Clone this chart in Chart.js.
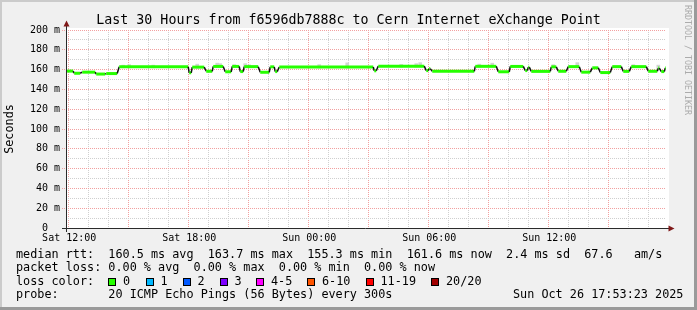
<!DOCTYPE html>
<html>
<head>
<meta charset="utf-8">
<script src="https://cdn.jsdelivr.net/npm/chart.js@4.4.1/dist/chart.umd.min.js"></script>
<style>
  body { margin: 0; background: #fff; }
  #wrap { position: relative; width: 697px; height: 310px; font-family: 'DejaVu Sans Mono', monospace; color: #000; }
  canvas { position: absolute; left: 0; top: 0; }
  .t { position: absolute; white-space: pre; line-height: 1; font-size: 11.8px; }
  .box { position: absolute; width: 6px; height: 6px; border: 1px solid #000; }
</style>
</head>
<body>
<div id="wrap">
  <canvas id="pingCanvas" width="697" height="310"></canvas>
  <div class="t" style="left:0;width:697px;text-align:center;top:12.7px;font-size:13.3px">Last 30 Hours from f6596db7888c to Cern Internet eXchange Point</div>
  <div class="t" style="left:683.6px;top:5px;font-size:8.3px;writing-mode:vertical-rl;color:#ababab">RRDTOOL / TOBI OETIKER</div>
  <div class="t" style="left:16px;top:249px">median rtt:  160.5 ms avg  163.7 ms max  155.3 ms min  161.6 ms now  2.4 ms sd  67.6   am/s</div>
  <div class="t" style="left:16px;top:262.3px">packet loss: 0.00 % avg  0.00 % max  0.00 % min  0.00 % now</div>
  <div class="t" style="left:16px;top:275.7px">loss color:</div>
  <div id="lossRow"></div>
  <div class="t" style="left:16px;top:289px">probe:       20 ICMP Echo Pings (56 Bytes) every 300s</div>
  <div class="t" style="left:513px;top:289px">Sun Oct 26 17:53:23 2025</div>
</div>
<script>
// hours since Sat 12:00, window is Sat 11:53 -> Sun 17:53
const axisStart = -0.11;
const axisEnd = 29.885;
const xLabelHours = [0, 6, 12, 18, 24];
const xLabelText = ['Sat 12:00', 'Sat 18:00', 'Sun 00:00', 'Sun 06:00', 'Sun 12:00'];

// median rtt (ms) as flat stretches: start hour, end hour, value
const segStart = [-0.11, 0.30, 0.70, 1.40, 1.90, 2.55, 6.05, 6.20, 6.90, 7.25, 7.85, 8.20, 8.60, 8.80,
  9.60, 10.10, 10.35, 10.55, 15.30, 15.50, 17.90, 18.05, 18.20, 20.35, 21.50, 22.10, 22.85, 23.00,
  23.15, 24.15, 24.50, 25.00, 25.65, 26.20, 26.60, 27.20, 27.75, 28.15, 29.00, 29.50, 29.65, 29.85];
const segEnd = [0.25, 0.60, 1.35, 1.85, 2.45, 6.00, 6.15, 6.80, 7.20, 7.75, 8.15, 8.55, 8.75, 9.50,
  10.05, 10.30, 10.45, 15.25, 15.40, 17.80, 18.00, 18.10, 20.30, 21.40, 22.05, 22.75, 22.95, 23.05,
  24.10, 24.40, 24.90, 25.55, 26.10, 26.50, 27.10, 27.65, 28.05, 28.90, 29.45, 29.55, 29.80, 29.89];
const segMedian = [158.5, 156.3, 157.4, 155.5, 156.0, 162.8, 156.8, 162.5, 158.3, 163.2, 157.8, 163.2, 158.0, 163.0,
  157.3, 162.8, 158.0, 162.6, 158.8, 163.5, 159.0, 161.0, 158.3, 163.3, 157.8, 163.2, 159.0, 162.5,
  158.2, 162.8, 158.3, 163.0, 157.4, 161.8, 157.0, 163.0, 158.2, 163.0, 158.3, 161.5, 158.0, 161.6];

// grey smoke showing above the median
const smokeHours = [2.75, 3.05, 4.25, 6.45, 7.45, 7.6, 8.3, 8.85, 9.05, 12.55, 13.95, 16.65, 17.4, 17.6, 20.55, 21.2, 24.25, 25.45, 28.25, 29.5];
const smokeLow = [161.8, 161.8, 161.8, 161.5, 162.2, 162.2, 162.2, 162.0, 162.0, 161.6, 161.6, 162.5, 162.5, 162.5, 162.3, 162.3, 161.8, 162.0, 162.0, 160.5];
const smokeHigh = [164.5, 165.0, 164.5, 165.5, 166.5, 166.0, 165.0, 166.0, 164.8, 165.0, 166.8, 165.2, 166.0, 167.0, 165.5, 166.5, 165.0, 167.0, 165.0, 164.5];

const lossLabels = ['0', '1', '2', '3', '4-5', '6-10', '11-19', '20/20'];
const lossColors = ['#26ff00', '#00b8ff', '#0059ff', '#7e00ff', '#ff00ff', '#ff5500', '#ff0000', '#a10000'];
const lossBoxX = [108, 145.5, 182.5, 219.5, 256, 307, 365.5, 431];

const row = document.getElementById('lossRow');
lossLabels.forEach((l, i) => {
  row.insertAdjacentHTML('beforeend',
    `<div class="box" style="left:${lossBoxX[i]}px;top:278px;background:${lossColors[i]}"></div>` +
    `<div class="t" style="left:${lossBoxX[i] + 15}px;top:275.7px">${l}</div>`);
});

const medianPoints = [];
segStart.forEach((s, i) => {
  medianPoints.push({ x: s, y: segMedian[i] });
  medianPoints.push({ x: segEnd[i], y: segMedian[i] });
});
const smokePoints = smokeHours.map((h, i) => ({ x: h, y: [smokeLow[i], smokeHigh[i]] }));

const yGrid = [];
for (let v = 0; v <= 200; v += 10) yGrid.push(v);
const xGrid = [];
for (let h = 0; h <= 29; h++) xGrid.push(h);

const mgrid = '#f2a0a0';
const grid = '#cfcfcf';

const framePlugin = {
  id: 'frame',
  beforeDraw(chart) {
    const { ctx, chartArea: a } = chart;
    ctx.save();
    ctx.fillStyle = '#f0f0f0';
    ctx.fillRect(0, 0, 697, 310);
    ctx.fillStyle = '#cbcbcb';
    ctx.fillRect(0, 0, 697, 2);
    ctx.fillRect(0, 0, 2, 310);
    ctx.fillStyle = '#9a9a9a';
    ctx.fillRect(694, 0, 3, 310);
    ctx.fillRect(0, 307, 697, 3);
    ctx.fillStyle = '#fff';
    ctx.fillRect(a.left, a.top - 2, a.right - a.left + 3, a.bottom - a.top + 2);
    ctx.restore();
  },
  afterDraw(chart) {
    const { ctx, chartArea: a } = chart;
    ctx.save();
    ctx.strokeStyle = '#2a2a2a';
    ctx.lineWidth = 1;
    ctx.beginPath();
    ctx.moveTo(a.left + 0.5, a.bottom + 4);
    ctx.lineTo(a.left + 0.5, a.top - 6);
    ctx.moveTo(a.left - 4, a.bottom + 0.5);
    ctx.lineTo(a.right + 3, a.bottom + 0.5);
    ctx.stroke();
    ctx.fillStyle = '#7f1818';
    ctx.beginPath();
    ctx.moveTo(a.left - 2.5, a.top - 3.5);
    ctx.lineTo(a.left + 3.5, a.top - 3.5);
    ctx.lineTo(a.left + 0.5, a.top - 9.5);
    ctx.closePath();
    ctx.fill();
    ctx.beginPath();
    ctx.moveTo(a.right + 2.5, a.bottom - 2.5);
    ctx.lineTo(a.right + 2.5, a.bottom + 3.5);
    ctx.lineTo(a.right + 8.5, a.bottom + 0.5);
    ctx.closePath();
    ctx.fill();
    ctx.restore();
  }
};

Chart.defaults.font.family = "'DejaVu Sans Mono', monospace";
Chart.defaults.color = '#000';

const ctx = document.getElementById('pingCanvas').getContext('2d');
new Chart(ctx, {
  type: 'line',
  data: {
    datasets: [{
      type: 'line',
      label: 'median rtt',
      data: medianPoints,
      borderColor: '#26ff00',
      borderWidth: 3,
      borderCapStyle: 'butt',
      pointRadius: 0,
      order: 1,
      segment: {
        borderColor: c => c.p0.parsed.y !== c.p1.parsed.y ? '#111' : undefined,
        borderWidth: c => c.p0.parsed.y !== c.p1.parsed.y ? 1.5 : undefined
      }
    }, {
      type: 'bar',
      label: 'smoke',
      data: smokePoints,
      backgroundColor: '#d4d4d4',
      barThickness: 3,
      grouped: false,
      order: 2
    }]
  },
  options: {
    responsive: false,
    animation: false,
    devicePixelRatio: 1,
    layout: { padding: { left: 3, top: 30, right: 31, bottom: 0 } },
    plugins: { legend: { display: false }, tooltip: { enabled: false } },
    scales: {
      x: {
        type: 'linear',
        min: axisStart,
        max: axisEnd,
        offset: false,
        afterBuildTicks: s => { s.ticks = xGrid.map(v => ({ value: v })); },
        afterFit: s => { s.height = 82; },
        grid: {
          offset: false,
          drawTicks: false,
          color: c => (c.tick && c.tick.value % 3 === 0) ? mgrid : grid
        },
        border: { display: false, dash: [1, 1] },
        ticks: {
          autoSkip: false,
          maxRotation: 0,
          padding: 4,
          labelOffset: 1,
          font: { size: 10 },
          callback: v => {
            const i = xLabelHours.indexOf(v);
            return i >= 0 ? xLabelText[i] : '';
          }
        }
      },
      y: {
        min: 0,
        max: 200,
        afterBuildTicks: s => { s.ticks = yGrid.map(v => ({ value: v })); },
        afterFit: s => { s.width = 63; },
        grid: {
          color: c => (c.tick && c.tick.value % 20 === 0) ? mgrid : grid,
          tickColor: c => (c.tick && c.tick.value % 20 === 0) ? mgrid : 'rgba(0,0,0,0)',
          tickLength: 4,
          tickBorderDash: [1, 1]
        },
        border: { display: false, dash: [1, 1] },
        ticks: {
          autoSkip: false,
          padding: 2,
          font: { size: 10 },
          callback: v => v % 20 === 0 ? (v === 0 ? '0  ' : v + ' m') : ''
        },
        title: {
          display: true,
          text: 'Seconds',
          padding: 0,
          font: { size: 11.8 }
        }
      }
    }
  },
  plugins: [framePlugin]
});
</script>
</body>
</html>
